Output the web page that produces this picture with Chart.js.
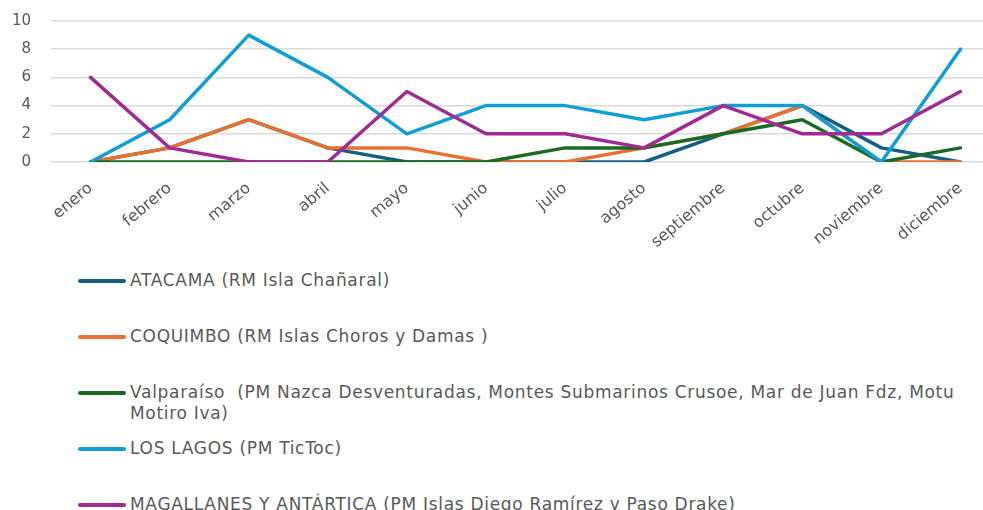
<!DOCTYPE html>
<html lang="es">
<head>
<meta charset="utf-8">
<title>Registros mensuales por área marina</title>
<script src="https://cdn.jsdelivr.net/npm/chart.js@4/dist/chart.umd.min.js"></script>
<style>
  html, body {
    margin: 0;
    padding: 0;
    background: #ffffff;
    overflow: hidden;
    width: 983px;
    height: 510px;
  }
  #wrap {
    position: relative;
    width: 983px;
    height: 510px;
    overflow: hidden;
  }
  #monthlyChart {
    position: absolute;
    left: 0;
    top: -8px;
  }
  #legend {
    position: absolute;
    left: 78px;
    top: 270px;
    font-family: "DejaVu Sans", sans-serif;
    font-size: 17px;
    letter-spacing: 0.7px;
    line-height: 21px;
    color: #595959;
  }
  .legend-item {
    position: relative;
    height: 56px;
  }
  .legend-swatch {
    position: absolute;
    left: 0;
    top: 9px;
    width: 48px;
    height: 4px;
    border-radius: 2px;
  }
  .legend-text {
    position: absolute;
    left: 52px;
    top: 0;
    width: 830px;
    white-space: pre-wrap;
  }
</style>
</head>
<body>
<div id="wrap">
  <canvas id="monthlyChart" width="1000" height="260"></canvas>
  <div id="legend"></div>
</div>
<script>
const months = ['enero', 'febrero', 'marzo', 'abril', 'mayo', 'junio', 'julio',
  'agosto', 'septiembre', 'octubre', 'noviembre', 'diciembre'];

const seriesLabels = [
  'ATACAMA (RM Isla Chañaral)',
  'COQUIMBO (RM Islas Choros y Damas )',
  'Valparaíso  (PM Nazca Desventuradas, Montes Submarinos Crusoe, Mar de Juan Fdz, Motu Motiro Iva)',
  'LOS LAGOS (PM TicToc)',
  'MAGALLANES Y ANTÁRTICA (PM Islas Diego Ramírez y Paso Drake)'
];

const atacama    = [0, 1, 3, 1, 0, 0, 0, 0, 2, 4, 1, 0];
const coquimbo   = [0, 1, 3, 1, 1, 0, 0, 1, 2, 4, 0, 0];
const valparaiso = [0, 0, 0, 0, 0, 0, 1, 1, 2, 3, 0, 1];
const losLagos   = [0, 3, 9, 6, 2, 4, 4, 3, 4, 4, 0, 8];
const magallanes = [6, 1, 0, 0, 5, 2, 2, 1, 4, 2, 2, 5];

const yTicks = [0, 2, 4, 6, 8, 10];

const seriesColors = ['#156082', '#E97132', '#196B24', '#0F9ED5', '#A02B93'];
const seriesData = [atacama, coquimbo, valparaiso, losLagos, magallanes];

const textColor = '#595959';
const yFont = { family: '"DejaVu Sans", sans-serif', size: 15 };
const xFont = { family: '"DejaVu Sans", sans-serif', size: 16 };

// later series are painted over earlier ones
const datasets = seriesData.map((values, i) => ({
  label: seriesLabels[i],
  data: values,
  borderColor: seriesColors[i],
  backgroundColor: seriesColors[i],
  borderWidth: 3.5,
  borderJoinStyle: 'round',
  borderCapStyle: 'round',
  pointRadius: 0,
  pointHoverRadius: 0,
  tension: 0,
  fill: false,
  order: seriesData.length - i
}));

const chart = new Chart(document.getElementById('monthlyChart'), {
  type: 'line',
  data: { labels: months, datasets },
  options: {
    responsive: false,
    animation: false,
    layout: { padding: 0 },
    scales: {
      x: {
        offset: true,
        grid: { display: false, drawTicks: false },
        border: { display: false },
        ticks: {
          color: textColor,
          font: xFont,
          minRotation: 40,
          maxRotation: 40,
          padding: 17,
          autoSkip: false
        },
        afterFit: (axis) => { axis.height = 90; }
      },
      y: {
        min: 0,
        max: 10,
        grid: { color: '#d9d9d9', lineWidth: 1.5, drawTicks: false },
        border: { display: false },
        afterBuildTicks: (axis) => { axis.ticks = yTicks.map(v => ({ value: v })); },
        ticks: {
          color: textColor,
          font: yFont,
          padding: 20
        },
        afterFit: (axis) => { axis.width = 51; }
      }
    },
    plugins: {
      legend: { display: false },
      tooltip: { enabled: false }
    }
  }
});

// legend listed under the plot, in series order
const legendBox = document.getElementById('legend');
chart.data.datasets.forEach((ds) => {
  const item = document.createElement('div');
  item.className = 'legend-item';
  const swatch = document.createElement('span');
  swatch.className = 'legend-swatch';
  swatch.style.background = ds.borderColor;
  const text = document.createElement('span');
  text.className = 'legend-text';
  text.textContent = ds.label;
  item.appendChild(swatch);
  item.appendChild(text);
  legendBox.appendChild(item);
});
</script>
</body>
</html>
